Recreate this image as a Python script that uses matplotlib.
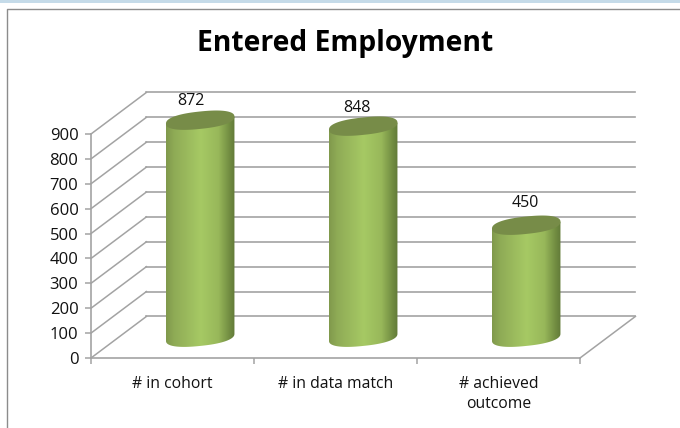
import matplotlib
matplotlib.use('Agg')
import matplotlib.pyplot as plt
from matplotlib.colors import LinearSegmentedColormap
from matplotlib.patches import Polygon, Rectangle
from matplotlib.lines import Line2D
import numpy as np

plt.rcParams['font.family'] = ['Open Sans', 'DejaVu Sans']

categories = ['# in cohort', '# in data match', '# achieved\noutcome']
values = [872, 848, 450]
y_ticks = [0, 100, 200, 300, 400, 500, 600, 700, 800, 900]

# 3D look: how far the back wall is shifted, in data units
depth_x = 0.34
depth_y = 167
bar_depth = 0.5
half_w = 0.21
ell_b = 35
ell_tilt = 14

W, H = 680, 428
fig = plt.figure(figsize=(W / 100, H / 100), dpi=100)
ax = fig.add_axes([91 / W, (H - 358) / H, 489 / W, 224 / H])

# page background: blue band and chart frame
fig.patches.append(Rectangle((0, 1 - 3 / H), 1, 3 / H, transform=fig.transFigure,
                             facecolor='#c5dbe9', edgecolor='none'))
fig.add_artist(Line2D([6.5 / W, 6.5 / W, 1], [0, 1 - 8.5 / H, 1 - 8.5 / H],
                      color='#8c8c8c', lw=1.0))

grid_col = '#a3a3a3'
for v in y_ticks:
    ax.plot([0, depth_x], [v, v + depth_y], color=grid_col, lw=1.1, clip_on=False, zorder=1)
    ax.plot([depth_x, 3 + depth_x], [v + depth_y, v + depth_y], color=grid_col, lw=1.2,
            clip_on=False, zorder=1)
ax.plot([3, 3 + depth_x], [0, depth_y], color=grid_col, lw=1.1, clip_on=False, zorder=1)

cmap = LinearSegmentedColormap.from_list('cyl', [
    (0.0, '#80994c'), (0.12, '#8fab56'), (0.5, '#a6c964'),
    (0.76, '#98b85a'), (0.92, '#728d42'), (1.0, '#617a38')])
gradient = np.linspace(0, 1, 256).reshape(1, -1)


def ellipse(cx, cy, a):
    # slightly squarish tilted ellipse, the ends are blunt in the original
    c = np.sign(np.cos(a)) * np.abs(np.cos(a)) ** 0.85
    s = np.sign(np.sin(a)) * np.abs(np.sin(a)) ** 0.85
    return np.c_[cx + half_w * c, cy + ell_b * s + ell_tilt * c]


for i, v in enumerate(values):
    cx = i + 0.5 + bar_depth * depth_x
    base = bar_depth * depth_y
    top = v + base
    # lower half of the base ellipse, then back up along the top edge
    lower = ellipse(cx, base, np.linspace(np.pi, 2 * np.pi, 60))
    outline = np.r_[lower, [[cx + half_w, top + ell_tilt]], [[cx - half_w, top - ell_tilt]]]
    im = ax.imshow(gradient, extent=[cx - half_w, cx + half_w, base - 60, top + 60], cmap=cmap,
                   aspect='auto', zorder=3, interpolation='bilinear')
    im.set_clip_path(Polygon(outline, transform=ax.transData))
    im.set_clip_box(fig.bbox)
    ax.add_patch(Polygon(ellipse(cx, top, np.linspace(0, 2 * np.pi, 120)), facecolor='#778c48',
                         edgecolor='none', zorder=4, clip_on=False))

# data labels, nudged in pixels like the original
label_nudge = [(-9, 19), (-6, 18.5), (-1, 22.5)]
for i, v in enumerate(values):
    cx = i + 0.5 + bar_depth * depth_x
    ax.annotate(str(v), (cx, v + bar_depth * depth_y),
                xytext=(label_nudge[i][0] * 0.72, label_nudge[i][1] * 0.72),
                textcoords='offset points', ha='center', va='center', fontsize=11.5,
                color='#111111', annotation_clip=False)

ax.set_xlim(0, 3)
ax.set_ylim(0, 900)
ax.patch.set_visible(False)
for s in ['top', 'right']:
    ax.spines[s].set_visible(False)
for s in ['left', 'bottom']:
    ax.spines[s].set_color(grid_col)
    ax.spines[s].set_linewidth(1.2)

ax.set_yticks(y_ticks)
ax.set_xticks([0, 1, 2, 3])
ax.set_xticklabels([])
ax.set_xticks([0.5, 1.5, 2.5], minor=True)
ax.set_xticklabels(categories, minor=True, fontsize=11.3, linespacing=1.35, va='top')
ax.tick_params(axis='x', which='major', length=4.5, width=1.1, color=grid_col)
ax.tick_params(axis='x', which='minor', length=0, pad=13, labelcolor='#111111')
ax.tick_params(axis='y', length=4, width=1.1, color=grid_col, labelsize=12, pad=5, labelcolor='#111111')

fig.text(345 / W, 1 - 44 / H, 'Entered Employment', ha='center', va='center',
         fontsize=20.3, fontweight='bold', color='black')

fig.savefig('out.png', dpi=100)
